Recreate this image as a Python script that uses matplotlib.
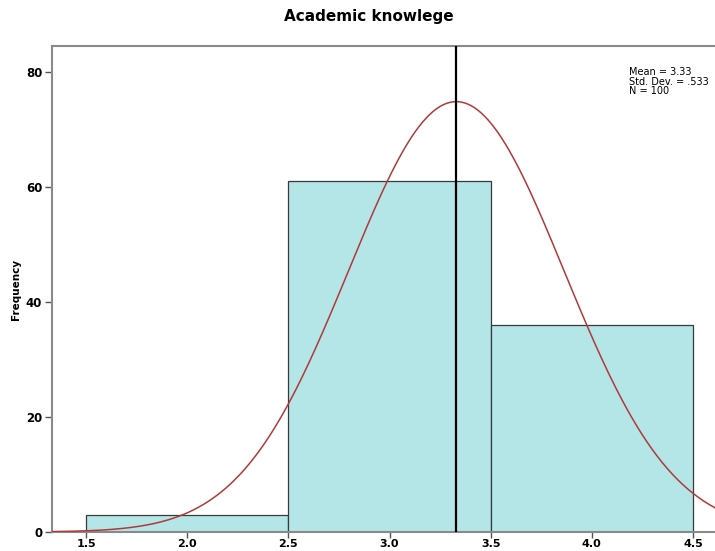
import numpy as np
import matplotlib.pyplot as plt

# histogram data
bin_edges = [1.5, 2.5, 3.5, 4.5]
counts = [3, 61, 36]
mean = 3.33
sd = 0.533
n = 100

x_ticks = [1.5, 2.0, 2.5, 3.0, 3.5, 4.0, 4.5]
y_ticks = [0, 20, 40, 60, 80]

fig = plt.figure(figsize=(7.15, 5.51), dpi=100)
W, H = 715, 551
left, right_px, top, bottom = 52, 740, 46, 532
ax = fig.add_axes([left / W, (H - bottom) / H, (right_px - left) / W, (bottom - top) / H])

px_per_unit = (693 - 86) / 3.0
x0 = 1.5 - (86 - left) / px_per_unit
x1 = x0 + (right_px - left) / px_per_unit
ax.set_xlim(x0, x1)
ax.set_ylim(0, 80 + (72 - top) / 5.75)

widths = np.diff(bin_edges)
ax.bar(bin_edges[:-1], counts, width=widths, align='edge',
       color='#b4e5e7', edgecolor='#3a3a3a', linewidth=0.9, zorder=2)

xs = np.linspace(x0, x1, 400)
pdf = n * 1.0 / (sd * np.sqrt(2 * np.pi)) * np.exp(-0.5 * ((xs - mean) / sd) ** 2)
ax.plot(xs, pdf, color='#b03a3a', linewidth=1.1, zorder=3)

ax.axvline(mean, color='black', linewidth=1.6, zorder=4)

ax.set_xticks(x_ticks)
ax.set_xticklabels(['%.1f' % v for v in x_ticks])
ax.set_yticks(y_ticks)
ax.tick_params(axis='x', direction='out', length=4, color='#555555',
               labelsize=8, width=1, pad=1)
ax.tick_params(axis='y', direction='out', length=5, color='#555555',
               labelsize=8.5, width=1, pad=2)
for lab in ax.get_xticklabels() + ax.get_yticklabels():
    lab.set_fontweight('bold')

for s in ['left', 'bottom', 'top']:
    ax.spines[s].set_color('#8a8a8a')
    ax.spines[s].set_linewidth(1.5)
ax.spines['right'].set_visible(False)

fig.text(16 / W, 1 - 289 / H, 'Frequency', rotation=90, ha='center', va='center',
         fontsize=7.5, fontweight='bold')

fig.text(369 / W, 1 - 17 / H, 'Academic knowlege', ha='center', va='center',
         fontsize=11, fontweight='bold')

fig.text(629 / W, 1 - 67 / H, 'Mean = 3.33\nStd. Dev. = .533\nN = 100',
         fontsize=7, va='top', ha='left', linespacing=0.95)

fig.savefig('out.png', dpi=100)
